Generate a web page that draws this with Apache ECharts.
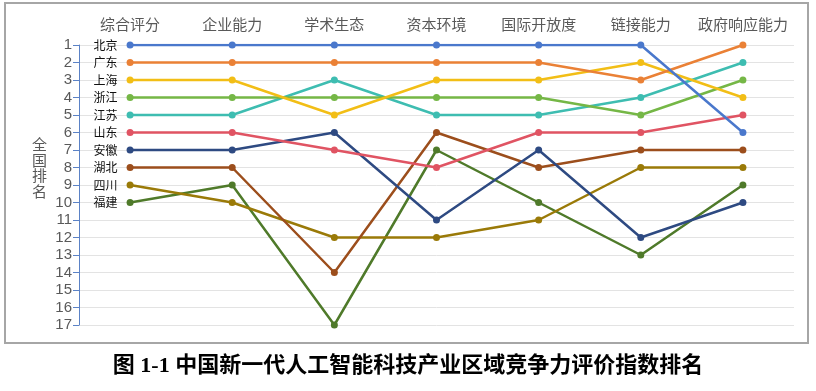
<!DOCTYPE html>
<html><head><meta charset="utf-8">
<script src="https://cdn.jsdelivr.net/npm/echarts@6/dist/echarts.min.js"></script>
<style>html,body{margin:0;padding:0;background:#fff}#c{width:816px;height:391px}</style>
</head><body><div id="c"></div>
<script>
const categories = ['综合评分','企业能力','学术生态','资本环境','国际开放度','链接能力','政府响应能力'];
const provinces = ['北京','广东','上海','浙江','江苏','山东','安徽','湖北','四川','福建'];
const beijing  = [1,1,1,1,1,1,6];
const guangdong= [2,2,2,2,2,3,1];
const shanghai = [3,3,5,3,3,2,4];
const zhejiang = [4,4,4,4,4,5,3];
const jiangsu  = [5,5,3,5,5,4,2];
const shandong = [6,6,7,8,6,6,5];
const anhui    = [7,7,6,11,7,12,10];
const hubei    = [8,8,14,6,8,7,7];
const sichuan  = [9,10,12,12,11,8,8];
const fujian   = [10,9,17,7,10,13,9];
const seriesValues = [beijing,guangdong,shanghai,zhejiang,jiangsu,shandong,anhui,hubei,sichuan,fujian];
const colors = ['#4A78CC','#EA8136','#F2BE16','#75B746','#3EBDB1','#E05463','#2E4A82','#9C4E1C','#9A7A08','#4F7A2A'];
const yTicks = [1,17];

const chart = echarts.init(document.getElementById('c'));
const series = provinces.map((name, k) => ({
  name: name,
  type: 'line',
  data: seriesValues[k].map((v, i) => i === 0 ? {
    value: v,
    label: {show: true, position: 'left', distance: 9, formatter: name, color: '#111', fontSize: 12, fontFamily: 'Noto Sans CJK SC'}
  } : v),
  symbol: 'circle',
  symbolSize: 7,
  lineStyle: {width: 2.5, color: colors[k]},
  itemStyle: {color: colors[k]},
  z: 10 - k
}));

chart.setOption({
  animation: false,
  grid: {left: 79, right: 22, top: 45, bottom: 66},
  xAxis: {
    type: 'category', position: 'top', data: categories, boundaryGap: true,
    axisLine: {show: false}, axisTick: {show: false},
    axisLabel: {interval: 0, color: '#595959', fontSize: 15, fontFamily: 'Noto Sans CJK SC', margin: 13}
  },
  yAxis: {
    type: 'value', inverse: true, min: yTicks[0], max: yTicks[1], interval: 1,
    axisLine: {show: true, lineStyle: {color: '#5B82C6', width: 1}},
    axisTick: {show: true, length: 6, lineStyle: {color: '#5B82C6'}},
    axisLabel: {color: '#595959', fontSize: 15, fontFamily: 'Liberation Sans', margin: 7},
    splitLine: {show: true, lineStyle: {color: '#e3e3e3', width: 1}}
  },
  graphic: [
    {type: 'rect', shape: {x: 5, y: 3, width: 803, height: 340}, style: {fill: 'none', stroke: '#a6a6a6', lineWidth: 2}, z: -1},
    {type: 'text', left: 32, top: 137, style: {text: '全\n国\n排\n名', fill: '#595959', fontSize: 15, lineHeight: 15.5, fontFamily: 'Noto Sans CJK SC'}},
    {type: 'text', left: 'center', top: 355, style: {text: '图 1-1 中国新一代人工智能科技产业区域竞争力评价指数排名', fill: '#000', fontSize: 22, fontWeight: 'bold', fontFamily: 'Liberation Serif, Noto Sans CJK SC'}}
  ],
  series: series
});
</script></body></html>
